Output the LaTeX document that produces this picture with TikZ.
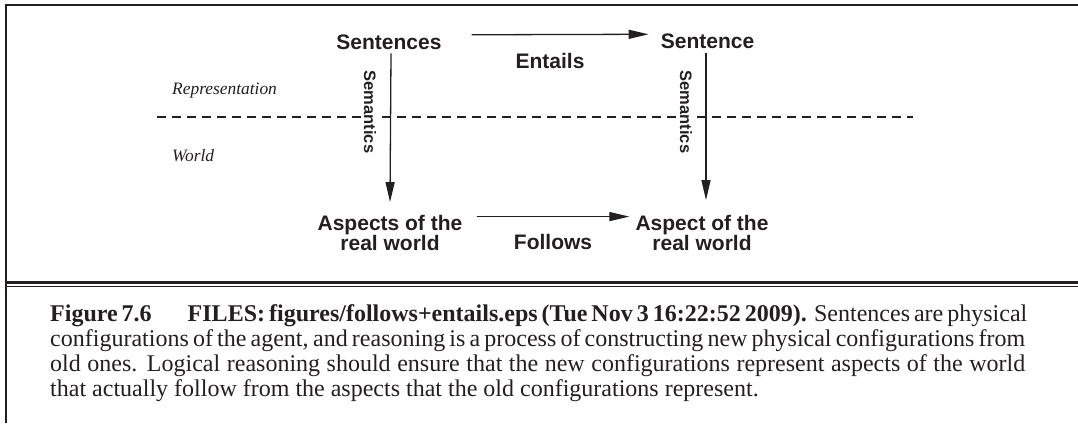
\documentclass[tikz,border=0pt]{standalone}
\usepackage{fontspec}
\setmainfont{Liberation Serif}
\setsansfont{Liberation Sans}
\usetikzlibrary{arrows.meta}
\definecolor{ink}{HTML}{231F20}
\begin{document}
\begin{tikzpicture}[x=1pt,y=-1pt,
  every node/.style={text=ink},
  term/.style={font=\sffamily\bfseries\fontsize{21}{21}\selectfont, inner sep=0pt, align=center},
  sem/.style={font=\sffamily\bfseries\fontsize{16.5}{16.5}\selectfont, inner sep=1.5pt, fill=white, rotate=-90},
  realm/.style={font=\itshape\fontsize{17.4}{17.4}\selectfont, inner sep=0pt, anchor=base west},
  arr/.style={draw=ink, line width=1.3pt, -{Triangle[length=20pt,width=9pt]}},
  capline/.style={font=\fontsize{24}{25}\selectfont, inner sep=0pt, anchor=base west},
  frame/.style={draw=ink}
]
\useasboundingbox (0,0) rectangle (1078,423);
% frame
\draw[frame, line width=2.4pt] (6,423) -- (6,5) -- (1078,5);
\draw[frame, line width=2.7pt] (6,282.7) -- (1078,282.7);
\draw[frame, line width=1.3pt] (6,286.8) -- (1078,286.8);
% dashed divider
\draw[ink, line width=1.3pt, dash pattern=on 9pt off 6pt] (157,117) -- (913,117);
% realm labels
\node[realm] (rep) at (172,94) {Representation};
\node[realm] (wld) at (172,161) {World};
% terms
\node[term, anchor=base] (s1) at (389,49) {Sentences};
\node[term, anchor=base] (s2) at (707.5,48.5) {Sentence};
\node[term] (a1) at (390,233) {Aspects of the\\[-1pt]real world};
\node[term] (a2) at (702,233) {Aspect of the\\[-1pt]real world};
\node[term, anchor=base] (ent) at (550,68) {Entails};
\node[term, anchor=base] (fol) at (553,249) {Follows};
% semantics labels
\node[sem] (sm1) at (370,112) {Semantics};
\node[sem] (sm2) at (686,112) {Semantics};
% arrows
\draw[arr] ([xshift=2pt,yshift=-4pt]s1.south) -- ([xshift=1pt,yshift=13pt]s1.south |- a1.north);
\draw[arr] ([xshift=-1.5pt,yshift=-4pt]s2.south) -- ([xshift=-1.5pt,yshift=15pt]s2.south |- a2.north);
\draw[arr] ([xshift=30pt,yshift=7pt]s1.east) -- ([xshift=-12pt,yshift=7pt]s2.west);
\draw[arr] ([xshift=14pt,yshift=-1.5pt]a1.north east) -- ([xshift=-6pt,yshift=-1.5pt]a2.north west);
% caption
\node[capline] (c1) at (50,321.7) {\makebox[975pt][s]{\textbf{Figure 7.6\hspace{1.5em}FILES: figures/follows+entails.eps (Tue Nov 3 16:22:52 2009).} Sentences are physical}};
\node[capline] (c2) at (50,346.7) {\makebox[975pt][s]{configurations of the agent, and reasoning is a process of constructing new physical configurations from}};
\node[capline] (c3) at (50,371.7) {\makebox[975pt][s]{old ones. Logical reasoning should ensure that the new configurations represent aspects of the world}};
\node[capline] (c4) at (50,396.7) {that actually follow from the aspects that the old configurations represent.};
\end{tikzpicture}
\end{document}
